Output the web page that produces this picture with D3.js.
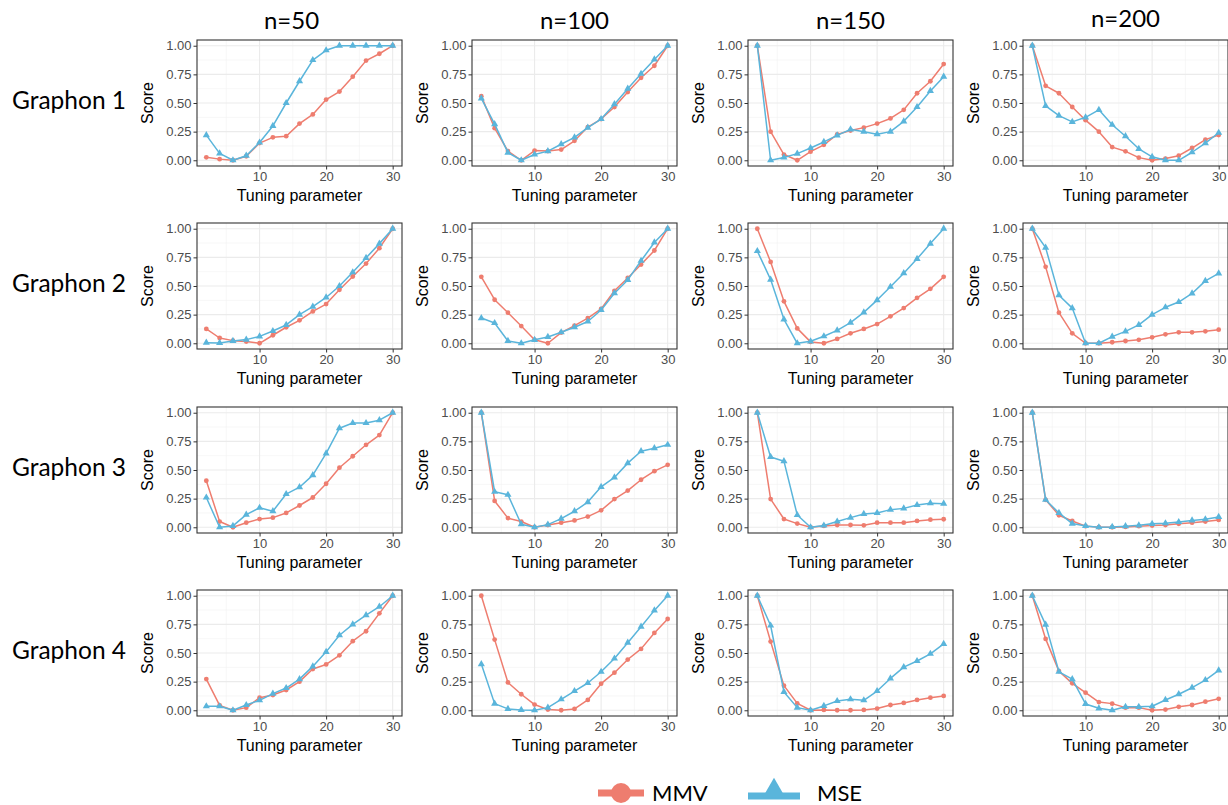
<!DOCTYPE html>
<html>
<head>
<meta charset="utf-8">
<script src="https://cdn.jsdelivr.net/npm/d3@7/dist/d3.min.js"></script>
<style>
  body { margin: 0; background: #fff; }
  svg { display: block; }
</style>
</head>
<body>
<svg id="chart"></svg>
<script>
// tuning parameter values (x) and labels
var tuning = [2, 4, 6, 8, 10, 12, 14, 16, 18, 20, 22, 24, 26, 28, 30];
var sampleSizes = ["n=50", "n=100", "n=150", "n=200"];
var graphons = ["Graphon 1", "Graphon 2", "Graphon 3", "Graphon 4"];
var yTicks = [0, 0.25, 0.5, 0.75, 1];
var xTicks = [10, 20, 30];
var seriesNames = ["MMV", "MSE"];

// scores, one inner array per sample size (n=50, 100, 150, 200)
var mmvGraphon1 = [
  [0.026, 0.01, 0, 0.035, 0.15, 0.2, 0.21, 0.32, 0.4, 0.53, 0.6, 0.73, 0.87, 0.93, 1],
  [0.56, 0.28, 0.08, 0, 0.085, 0.08, 0.093, 0.17, 0.29, 0.36, 0.465, 0.595, 0.72, 0.825, 1],
  [1, 0.25, 0.05, 0, 0.075, 0.135, 0.225, 0.26, 0.285, 0.32, 0.365, 0.44, 0.585, 0.69, 0.84],
  [1, 0.65, 0.585, 0.465, 0.35, 0.25, 0.115, 0.078, 0.023, 0, 0.015, 0.04, 0.107, 0.18, 0.22]
];
var mseGraphon1 = [
  [0.22, 0.06, 0, 0.04, 0.155, 0.3, 0.5, 0.69, 0.875, 0.96, 1, 1, 1, 1, 1],
  [0.54, 0.315, 0.067, 0, 0.05, 0.08, 0.14, 0.2, 0.285, 0.36, 0.49, 0.625, 0.755, 0.88, 1],
  [1, 0, 0.025, 0.058, 0.107, 0.16, 0.217, 0.27, 0.25, 0.228, 0.25, 0.34, 0.465, 0.605, 0.73],
  [1, 0.475, 0.39, 0.335, 0.375, 0.44, 0.31, 0.21, 0.1, 0.03, 0, 0, 0.07, 0.15, 0.24]
];
var mmvGraphon2 = [
  [0.125, 0.046, 0.023, 0.015, 0, 0.07, 0.14, 0.2, 0.278, 0.342, 0.467, 0.583, 0.696, 0.83, 1],
  [0.58, 0.38, 0.267, 0.15, 0.03, 0, 0.093, 0.154, 0.22, 0.3, 0.458, 0.57, 0.687, 0.81, 1],
  [1, 0.71, 0.366, 0.13, 0.012, 0, 0.038, 0.087, 0.125, 0.168, 0.235, 0.307, 0.397, 0.475, 0.58],
  [1, 0.667, 0.267, 0.087, 0, 0, 0.009, 0.02, 0.03, 0.052, 0.078, 0.096, 0.096, 0.104, 0.119]
];
var mseGraphon2 = [
  [0.005, 0.003, 0.02, 0.032, 0.06, 0.107, 0.16, 0.25, 0.32, 0.4, 0.5, 0.62, 0.745, 0.87, 1],
  [0.22, 0.177, 0.02, 0, 0.03, 0.055, 0.096, 0.14, 0.19, 0.29, 0.437, 0.553, 0.72, 0.88, 1],
  [0.805, 0.556, 0.209, 0, 0.017, 0.061, 0.113, 0.18, 0.27, 0.377, 0.493, 0.612, 0.737, 0.87, 1],
  [1, 0.835, 0.42, 0.307, 0, 0, 0.058, 0.104, 0.16, 0.25, 0.314, 0.36, 0.435, 0.545, 0.61]
];
var mmvGraphon3 = [
  [0.406, 0.05, 0, 0.04, 0.072, 0.084, 0.125, 0.19, 0.26, 0.38, 0.52, 0.62, 0.72, 0.805, 1],
  [1, 0.23, 0.08, 0.05, 0, 0.02, 0.04, 0.06, 0.093, 0.148, 0.246, 0.32, 0.415, 0.49, 0.545],
  [1, 0.246, 0.072, 0.032, 0, 0.012, 0.02, 0.02, 0.017, 0.04, 0.04, 0.04, 0.055, 0.066, 0.07],
  [1, 0.24, 0.105, 0.055, 0.01, 0, 0, 0.003, 0.01, 0.015, 0.02, 0.03, 0.04, 0.05, 0.064]
];
var mseGraphon3 = [
  [0.26, 0, 0.012, 0.11, 0.17, 0.14, 0.29, 0.35, 0.455, 0.645, 0.865, 0.91, 0.91, 0.935, 1],
  [1, 0.31, 0.284, 0.026, 0, 0.023, 0.075, 0.14, 0.22, 0.353, 0.435, 0.56, 0.664, 0.69, 0.72],
  [1, 0.614, 0.577, 0.107, 0, 0.015, 0.05, 0.084, 0.116, 0.125, 0.154, 0.165, 0.194, 0.21, 0.206],
  [1, 0.24, 0.125, 0.032, 0.012, 0, 0.003, 0.01, 0.017, 0.03, 0.035, 0.046, 0.06, 0.07, 0.09]
];
var mmvGraphon4 = [
  [0.272, 0.043, 0, 0.023, 0.11, 0.133, 0.177, 0.25, 0.36, 0.4, 0.48, 0.603, 0.69, 0.846, 1],
  [1, 0.617, 0.243, 0.14, 0.05, 0.006, 0, 0.012, 0.09, 0.232, 0.328, 0.443, 0.536, 0.675, 0.797],
  [1, 0.6, 0.215, 0.06, 0, 0.003, 0, 0, 0.003, 0.015, 0.046, 0.064, 0.09, 0.11, 0.125],
  [1, 0.623, 0.342, 0.235, 0.154, 0.072, 0.058, 0.023, 0.023, 0, 0.006, 0.03, 0.046, 0.075, 0.1]
];
var mseGraphon4 = [
  [0.035, 0.035, 0, 0.046, 0.087, 0.145, 0.194, 0.272, 0.383, 0.51, 0.655, 0.75, 0.83, 0.904, 1],
  [0.403, 0.058, 0.012, 0.003, 0, 0.023, 0.096, 0.168, 0.238, 0.336, 0.452, 0.59, 0.73, 0.872, 1],
  [1, 0.74, 0.16, 0.023, 0, 0.038, 0.081, 0.096, 0.087, 0.168, 0.278, 0.377, 0.43, 0.493, 0.58],
  [1, 0.748, 0.336, 0.272, 0.055, 0.017, 0, 0.03, 0.03, 0.035, 0.09, 0.14, 0.197, 0.264, 0.348]
];

var mmvRows = [mmvGraphon1, mmvGraphon2, mmvGraphon3, mmvGraphon4];
var mseRows = [mseGraphon1, mseGraphon2, mseGraphon3, mseGraphon4];

var width = 1228;
var height = 805;
var colors = { MMV: "#EE7D6F", MSE: "#5AB5DB" };

var panelW = 205;
var panelH = 126;
var colLeft = [197, 472, 748, 1023];
var rowTop = [40, 223, 407, 590];

var svg = d3.select("#chart")
  .attr("width", width)
  .attr("height", height);

var x = d3.scaleLinear().domain([0.6, 31.4]).range([0, panelW]);
var y = d3.scaleLinear().domain([-0.05, 1.05]).range([panelH, 0]);

var line = d3.line()
  .x((d, i) => x(tuning[i]))
  .y(d => y(d));

var triangle = d3.symbol().type(d3.symbolTriangle).size(22);

// column titles
svg.selectAll(".col-title")
  .data(sampleSizes)
  .enter()
  .append("text")
  .attr("class", "col-title")
  .attr("x", (d, i) => colLeft[i] + panelW / 2 - (i === 0 ? 8 : 0))
  .attr("y", (d, i) => i === 3 ? 27 : 29)
  .attr("text-anchor", "middle")
  .style("font-family", "Lato, 'Open Sans', sans-serif")
  .style("font-size", "24px")
  .text(d => d);

// row titles
svg.selectAll(".row-title")
  .data(graphons)
  .enter()
  .append("text")
  .attr("class", "row-title")
  .attr("x", 12)
  .attr("y", (d, i) => rowTop[i] + panelH / 2 + 6)
  .style("font-family", "Lato, 'Open Sans', sans-serif")
  .style("font-size", "24.5px")
  .text(d => d);

graphons.forEach(function (g, r) {
  sampleSizes.forEach(function (n, c) {
    var panel = svg.append("g")
      .attr("transform", "translate(" + colLeft[c] + "," + rowTop[r] + ")");

    // minor grid
    panel.append("g").selectAll("line")
      .data([5, 15, 25])
      .enter().append("line")
      .attr("x1", d => x(d)).attr("x2", d => x(d))
      .attr("y1", 0).attr("y2", panelH)
      .attr("stroke", "#F2F2F2").attr("stroke-width", 0.6);
    panel.append("g").selectAll("line")
      .data([0.125, 0.375, 0.625, 0.875])
      .enter().append("line")
      .attr("y1", d => y(d)).attr("y2", d => y(d))
      .attr("x1", 0).attr("x2", panelW)
      .attr("stroke", "#F2F2F2").attr("stroke-width", 0.6);

    // major grid
    panel.append("g").selectAll("line")
      .data(xTicks)
      .enter().append("line")
      .attr("x1", d => x(d)).attr("x2", d => x(d))
      .attr("y1", 0).attr("y2", panelH)
      .attr("stroke", "#EBEBEB").attr("stroke-width", 1.1);
    panel.append("g").selectAll("line")
      .data(yTicks)
      .enter().append("line")
      .attr("y1", d => y(d)).attr("y2", d => y(d))
      .attr("x1", 0).attr("x2", panelW)
      .attr("stroke", "#EBEBEB").attr("stroke-width", 1.1);

    // axes
    var yAxis = panel.append("g")
      .call(d3.axisLeft(y).tickValues(yTicks).tickFormat(d3.format(".2f")).tickSize(3.5).tickPadding(2));
    var xAxis = panel.append("g")
      .attr("transform", "translate(0," + panelH + ")")
      .call(d3.axisBottom(x).tickValues(xTicks).tickSize(3.5).tickPadding(2));
    [xAxis, yAxis].forEach(function (a) {
      a.select(".domain").remove();
      a.selectAll(".tick line").attr("stroke", "#333333").attr("stroke-width", 1);
      a.selectAll(".tick text")
        .attr("fill", "#4D4D4D")
        .style("font-family", "'Liberation Sans', Arial, sans-serif")
        .style("font-size", "13px");
    });

    // series
    var series = [
      { name: "MMV", values: mmvRows[r][c] },
      { name: "MSE", values: mseRows[r][c] }
    ];
    series.forEach(function (s) {
      panel.append("path")
        .datum(s.values)
        .attr("d", line)
        .attr("fill", "none")
        .attr("stroke", colors[s.name])
        .attr("stroke-width", 1.5)
        .attr("stroke-linejoin", "round");
      var pts = panel.append("g").selectAll("path.pt")
        .data(s.values)
        .enter();
      if (s.name === "MMV") {
        pts.append("circle")
          .attr("cx", (d, i) => x(tuning[i]))
          .attr("cy", d => y(d))
          .attr("r", 2.4)
          .attr("fill", colors.MMV);
      } else {
        pts.append("path")
          .attr("d", triangle)
          .attr("transform", (d, i) => "translate(" + x(tuning[i]) + "," + y(d) + ")")
          .attr("fill", colors.MSE);
      }
    });

    // panel border
    panel.append("rect")
      .attr("width", panelW).attr("height", panelH)
      .attr("fill", "none")
      .attr("stroke", "#333333")
      .attr("stroke-width", 1.1);

    // axis titles
    panel.append("text")
      .attr("x", panelW / 2)
      .attr("y", panelH + 35)
      .attr("text-anchor", "middle")
      .style("font-family", "'Liberation Sans', Arial, sans-serif")
      .style("font-size", "16px")
      .text("Tuning parameter");
    panel.append("text")
      .attr("transform", "translate(-44," + panelH / 2 + ") rotate(-90)")
      .attr("text-anchor", "middle")
      .style("font-family", "'Liberation Sans', Arial, sans-serif")
      .style("font-size", "16px")
      .text("Score");
  });
});

// legend
var legend = svg.append("g").attr("class", "legend");
var legendItems = [
  { name: seriesNames[0], x0: 598, x1: 644, ly: 793, tx: 652 },
  { name: seriesNames[1], x0: 748, x1: 800, ly: 796, tx: 817 }
];
legendItems.forEach(function (it) {
  legend.append("line")
    .attr("x1", it.x0).attr("x2", it.x1)
    .attr("y1", it.ly).attr("y2", it.ly)
    .attr("stroke", colors[it.name])
    .attr("stroke-width", 7);
  if (it.name === "MMV") {
    legend.append("circle")
      .attr("cx", (it.x0 + it.x1) / 2).attr("cy", it.ly)
      .attr("r", 10)
      .attr("fill", colors.MMV);
  } else {
    legend.append("path")
      .attr("d", d3.symbol().type(d3.symbolTriangle).size(230))
      .attr("transform", "translate(" + ((it.x0 + it.x1) / 2) + "," + (it.ly - 5) + ")")
      .attr("fill", colors.MSE);
  }
  legend.append("text")
    .attr("x", it.tx)
    .attr("y", 801)
    .style("font-family", "Lato, 'Open Sans', sans-serif")
    .style("font-size", "22px")
    .text(it.name);
});
</script>
</body>
</html>
